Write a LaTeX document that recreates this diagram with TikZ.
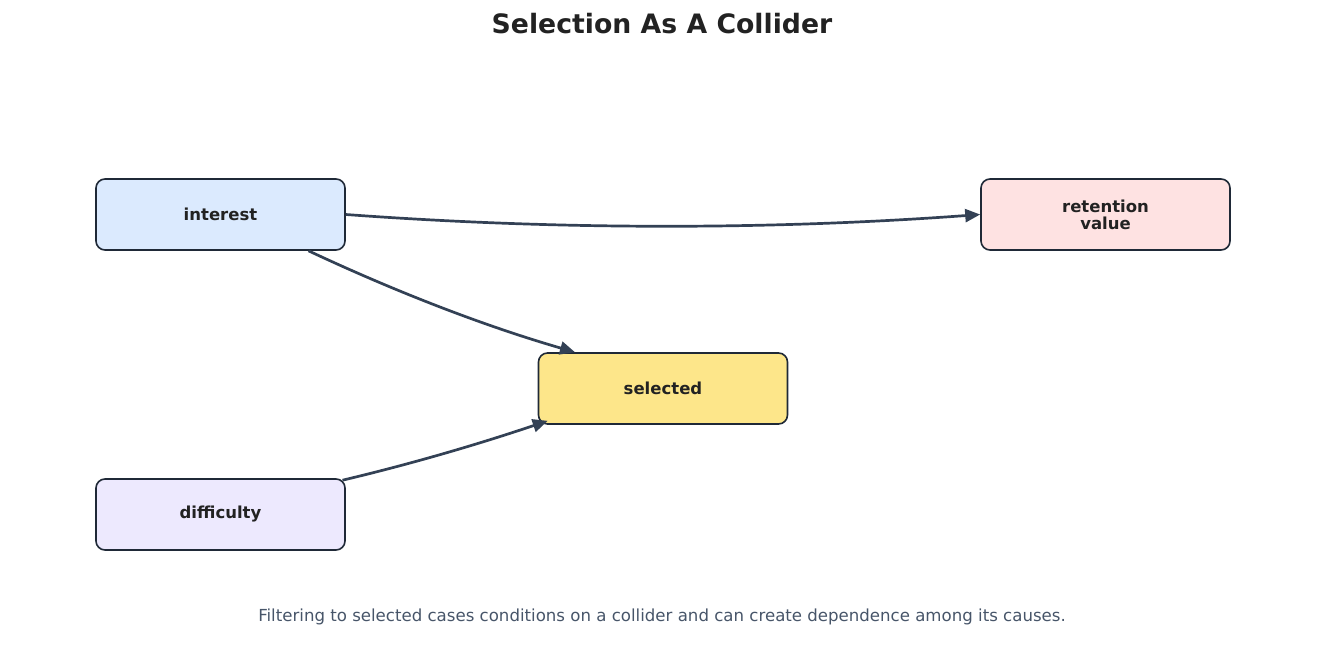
\documentclass[tikz,border=0pt]{standalone}
\usepackage{fontspec}
\setmainfont{DejaVu Sans}
\usetikzlibrary{arrows.meta}
\definecolor{edgec}{HTML}{334155}
\definecolor{borderc}{HTML}{1F2937}
\definecolor{titlec}{HTML}{222222}
\definecolor{capc}{HTML}{475569}
\definecolor{cint}{HTML}{DBEAFE}
\definecolor{cret}{HTML}{FEE2E2}
\definecolor{csel}{HTML}{FDE68A}
\definecolor{cdif}{HTML}{EDE9FE}
\tikzset{
  box/.style={draw=borderc, line width=1.6pt, rounded corners=9pt,
    minimum width=249pt, minimum height=71pt, inner sep=0pt,
    font=\fontsize{16.5}{17}\selectfont\bfseries, text=titlec, align=center},
  edge/.style={draw=edgec, line width=2.7pt, -{Triangle[length=15pt,width=13pt]}}
}
\begin{document}
\begin{tikzpicture}[x=1pt,y=-1pt]
\useasboundingbox (0,0) rectangle (1325,671);
\node[font=\fontsize{26.7}{30}\selectfont\bfseries, text=titlec] (title) at (662,24) {Selection As A Collider};
\node[box, fill=cint] (int) at (220.5,214.5) {interest};
\node[box, fill=cret] (ret) at (1105.5,214.5) {retention\\value};
\node[box, fill=csel] (sel) at (663,388.5) {selected};
\node[box, fill=cdif] (dif) at (220.5,514.5) {difficulty};
\draw[edge] (int.east) .. controls (557,230) and (769,230) .. (ret.west);
\draw[edge] ([xshift=88pt]int.south) .. controls (392,290) and (481,325) .. ([xshift=-88pt]sel.north);
\draw[edge] ([xshift=122pt,yshift=-2pt]dif.north) .. controls (411,464) and (479,444) .. ([xshift=10pt,yshift=4pt]sel.south west);
\node[font=\fontsize{16.6}{18}\selectfont, text=capc] (cap) at (662,617) {Filtering to selected cases conditions on a collider and can create dependence among its causes.};
\end{tikzpicture}
\end{document}
